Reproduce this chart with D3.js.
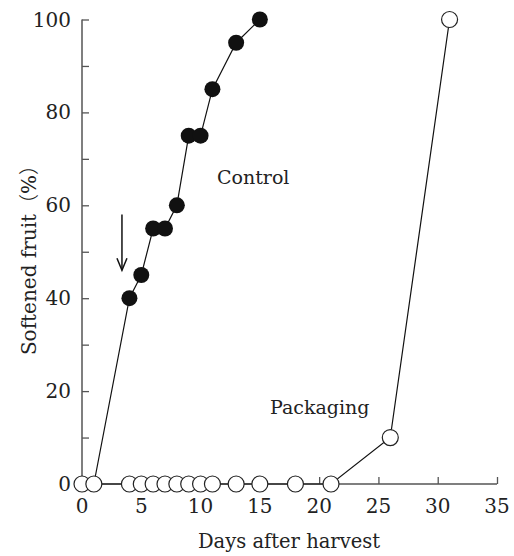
<!DOCTYPE html>
<html lang="en">
<head>
<meta charset="UTF-8">
<title>softened fruit</title>
<style>
  body { margin: 0; background: #fff; overflow: hidden; }
</style>
</head>
<body>
<script src="https://cdnjs.cloudflare.com/ajax/libs/d3/7.8.2/d3.min.js"></script>
<script>
// data
const controlDays = [0, 1, 4, 5, 6, 7, 8, 9, 10, 11, 13, 15]
const controlPct  = [0, 0, 40, 45, 55, 55, 60, 75, 75, 85, 95, 100]
const packDays = [0, 1, 4, 5, 6, 7, 8, 9, 10, 11, 13, 15, 18, 21, 26, 31]
const packPct  = [0, 0, 0, 0, 0, 0, 0, 0, 0, 0, 0, 0, 0, 0, 10, 100]
const xTicks = [0, 5, 10, 15, 20, 25, 30, 35]
const yTicks = [0, 20, 40, 60, 80, 100]
const yMinor = [10, 30, 50, 70, 90]

const W = 514, H = 556
const FONT = 'DejaVu Serif'
const x = d3.scaleLinear().domain([0, 35]).range([82, 497])
const y = d3.scaleLinear().domain([0, 100]).range([484, 19.5])

const svg = d3.select('body').append('svg').attr('width', W).attr('height', H)
  .attr('font-family', FONT)

// axes
const axisCol = '#555'
const yAxis = svg.append('g').attr('transform', `translate(${x(0)},0)`)
  .call(d3.axisRight(y).tickValues(yTicks.concat(yMinor)).tickSize(7).tickFormat(''))
yAxis.select('.domain').attr('stroke', axisCol).attr('stroke-width', 1.5).attr('d', `M0,${y(0)}V${y(100)}`)
yAxis.selectAll('.tick line').attr('stroke', axisCol).attr('stroke-width', 1.3)

const xAxis = svg.append('g').attr('transform', `translate(0,${y(0)})`)
  .call(d3.axisTop(x).tickValues(xTicks).tickSize(7).tickFormat(''))
xAxis.select('.domain').attr('stroke', axisCol).attr('stroke-width', 1.5).attr('d', `M${x(0)},0H${x(35)}`)
xAxis.selectAll('.tick line').attr('stroke', axisCol).attr('stroke-width', 1.3)

svg.append('g').selectAll('text').data(yTicks).join('text')
  .attr('x', 71).attr('y', d => y(d) + 7)
  .attr('text-anchor', 'end').attr('font-size', 20).attr('fill', '#222').text(d => d)

svg.append('g').selectAll('text').data(xTicks).join('text')
  .attr('x', d => x(d)).attr('y', 513)
  .attr('text-anchor', 'middle').attr('font-size', 20).attr('fill', '#222').text(d => d)

svg.append('text').attr('x', 289).attr('y', 548).attr('text-anchor', 'middle')
  .attr('font-size', 19.5).attr('fill', '#222').text('Days after harvest')

const cjk = 'Noto Sans CJK JP'
const ylab = svg.append('text').attr('transform', `translate(36,${255}) rotate(-90)`)
  .attr('text-anchor', 'middle').attr('font-size', 20).attr('fill', '#222')
ylab.append('tspan').text('Softened fruit')
ylab.append('tspan').attr('font-family', cjk).attr('font-weight', 300).text('（')
ylab.append('tspan').text('%')
ylab.append('tspan').attr('font-family', cjk).attr('font-weight', 300).text('）')

// lines
const line = d3.line().x(d => x(d[0])).y(d => y(d[1]))
const ctrl = controlDays.map((d, i) => [d, controlPct[i]])
const pack = packDays.map((d, i) => [d, packPct[i]])

svg.append('path').datum(ctrl).attr('d', line).attr('fill', 'none').attr('stroke', '#111').attr('stroke-width', 1.2)
svg.append('path').datum(pack).attr('d', line).attr('fill', 'none').attr('stroke', '#111').attr('stroke-width', 1.2)

svg.append('g').selectAll('circle').data(ctrl.filter(d => d[0] >= 4)).join('circle')
  .attr('cx', d => x(d[0])).attr('cy', d => y(d[1])).attr('r', 8)
  .attr('fill', '#111')

svg.append('g').selectAll('circle').data(pack).join('circle')
  .attr('cx', d => x(d[0])).attr('cy', d => y(d[1])).attr('r', 8)
  .attr('fill', '#fff').attr('stroke', '#222').attr('stroke-width', 1.2)

// labels
svg.append('text').attr('x', 217).attr('y', 184).attr('font-size', 19).attr('fill', '#222').text('Control')
svg.append('text').attr('x', 270).attr('y', 414).attr('font-size', 19).attr('fill', '#222').text('Packaging')

// arrow
const ax = x(3.37)
const aTop = y(58), aBot = y(46)
svg.append('path').attr('d', `M${ax},${aTop}V${aBot}`).attr('stroke', '#111').attr('stroke-width', 1.5).attr('fill', 'none')
svg.append('path').attr('d', `M${ax - 5},${aBot - 12}L${ax},${aBot}L${ax + 5},${aBot - 12}`)
  .attr('stroke', '#111').attr('stroke-width', 1.5).attr('fill', 'none')
</script>
</body>
</html>
